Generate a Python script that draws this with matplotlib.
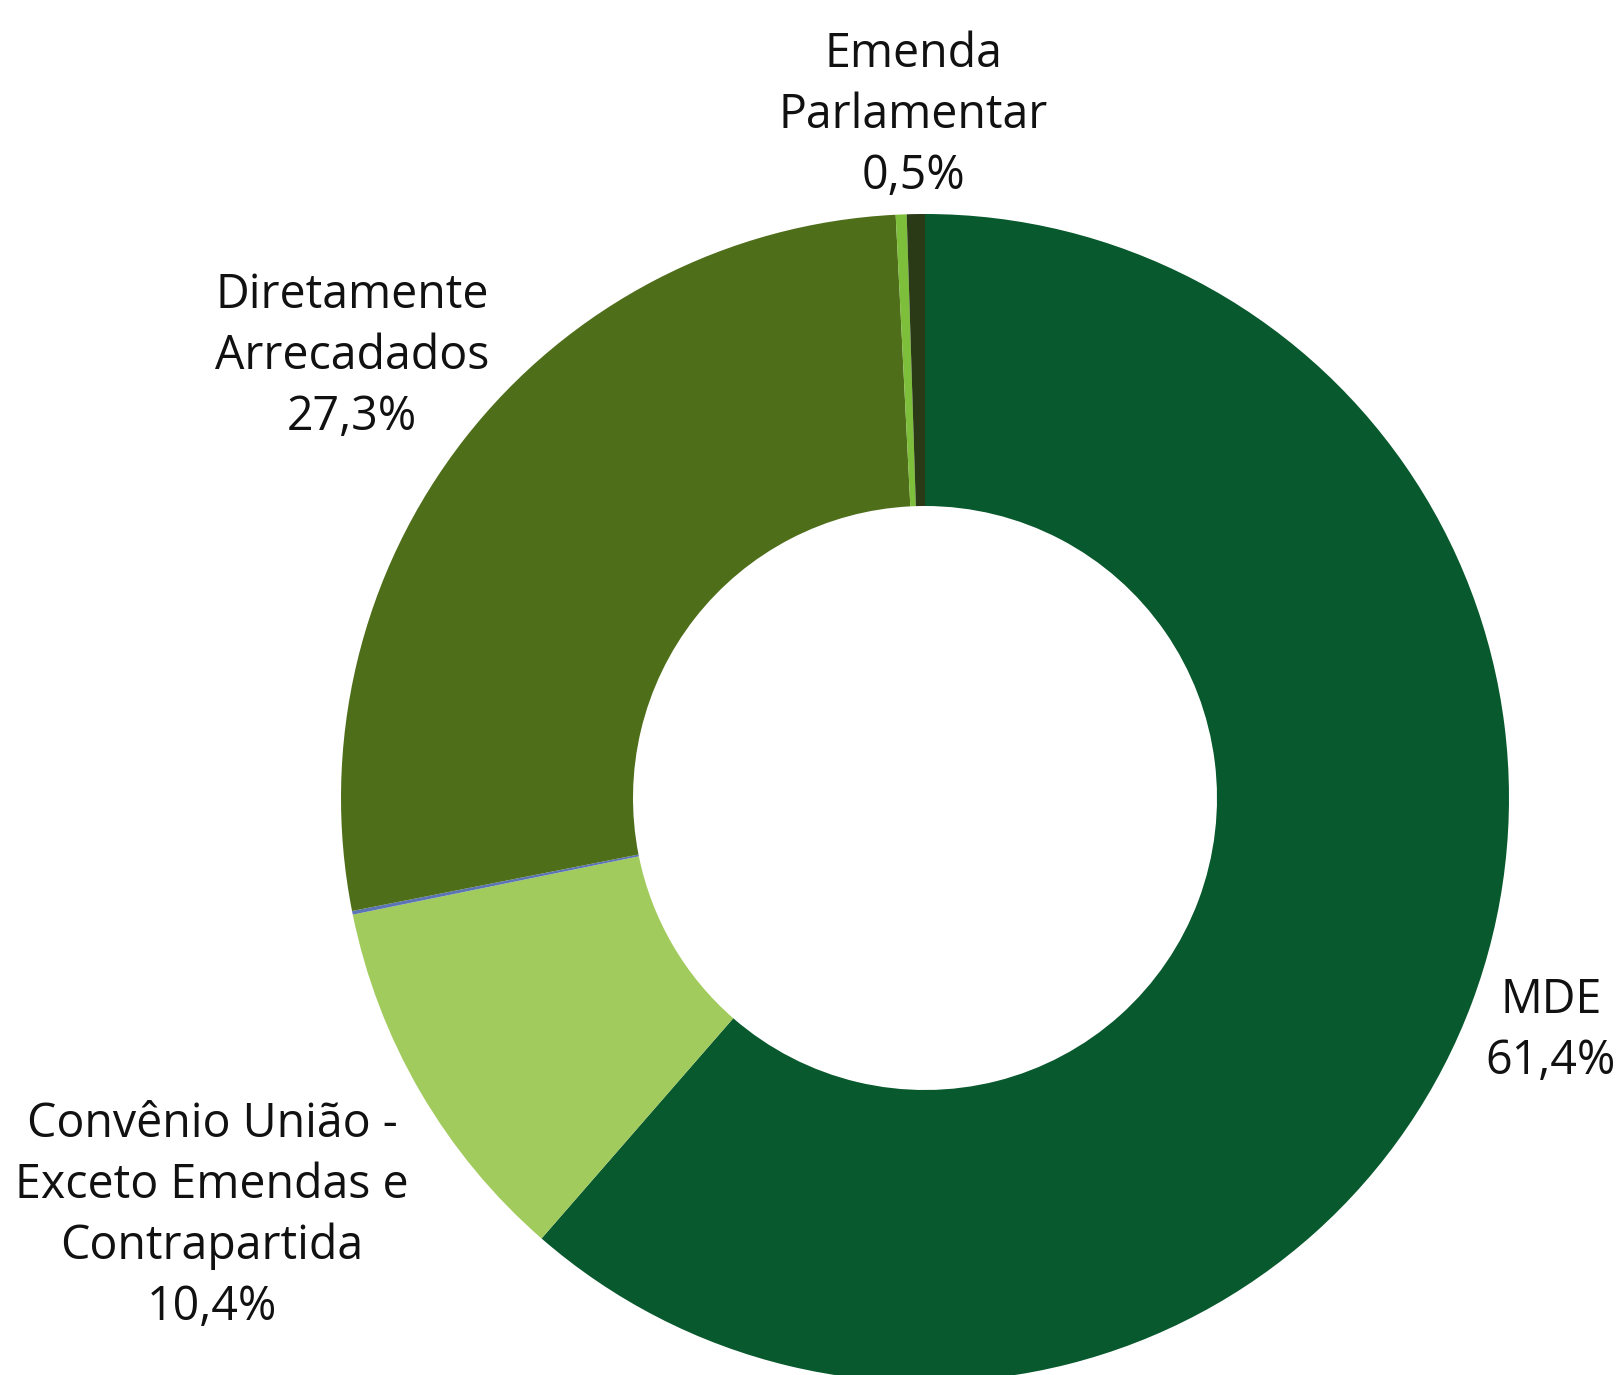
import matplotlib.pyplot as plt

# slices clockwise from 12 o'clock
names = ["MDE", "Convênio União -\nExceto Emendas e\nContrapartida", "Outros",
         "Diretamente\nArrecadados", "Outros 2", "Emenda\nParlamentar"]
shares = [61.4, 10.4, 0.1, 27.3, 0.3, 0.5]
colors = ["#08592d", "#a2cb5d", "#5b74b5", "#4f6e1a", "#7dbe3a", "#2b3a16"]

# label text and pixel positions (x, y from top)
labels = {
    0: ("MDE\n61,4%", 1551, 1031),
    1: ("Convênio União -\nExceto Emendas e\nContrapartida\n10,4%", 212, 1216),
    3: ("Diretamente\nArrecadados\n27,3%", 352, 356),
    5: ("Emenda\nParlamentar\n0,5%", 913, 115),
}

W, H = 1619, 1375
fig = plt.figure(figsize=(W / 100, H / 100), dpi=100)
ax = fig.add_axes([0, 0, 1, 1])

cx, cy, r = 925, H - 798, 584
ax.pie(shares, colors=colors, startangle=90, counterclock=False,
       center=(cx, cy), radius=r, frame=True,
       wedgeprops=dict(width=r * 0.5, linewidth=0))
ax.set_xlim(0, W)
ax.set_ylim(0, H)
ax.axis("off")

for i, (txt, x, y) in labels.items():
    ax.text(x, H - y, txt, ha="center", va="center", fontsize=33.5,
            family="Open Sans", linespacing=1.37, color="#111111")

fig.savefig("out.png", dpi=100)
